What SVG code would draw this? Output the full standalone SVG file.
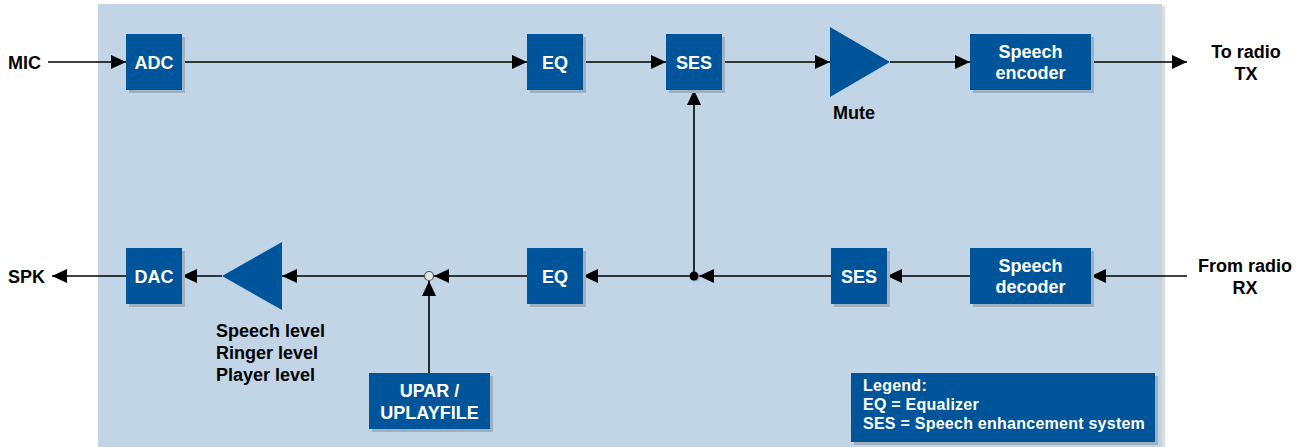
<svg xmlns="http://www.w3.org/2000/svg" width="1309" height="447" viewBox="0 0 1309 447">
<style>
.box{fill:#00559a}
.sh{fill:#9fb0c0}
.bt{font-family:"Liberation Sans",Arial,sans-serif;font-weight:bold;font-size:18px;fill:#ffffff;text-anchor:middle}
.lt{font-family:"Liberation Sans",Arial,sans-serif;font-weight:bold;font-size:18px;fill:#000000}
.lg{font-family:"Liberation Sans",Arial,sans-serif;font-weight:bold;font-size:16px;letter-spacing:0.25px;fill:#ffffff}
.ln{stroke:#000;stroke-width:1.6;fill:none}
</style>
<defs>
<marker id="ah" markerWidth="15" markerHeight="14" refX="15" refY="7" orient="auto" markerUnits="userSpaceOnUse">
<path d="M0,0 L15,7 L0,14 Z" fill="#000"/>
</marker>
</defs>
<rect x="1162" y="6" width="3" height="441" fill="#dcdcdc"/>
<rect x="98" y="4" width="1064" height="443" fill="#c1d5e6"/>

<g id="connectors">
<line class="ln" x1="48" y1="62" x2="126" y2="62" marker-end="url(#ah)"/>
<line class="ln" x1="182" y1="62" x2="527" y2="62" marker-end="url(#ah)"/>
<line class="ln" x1="583" y1="62" x2="666" y2="62" marker-end="url(#ah)"/>
<line class="ln" x1="722" y1="62" x2="830" y2="62" marker-end="url(#ah)"/>
<line class="ln" x1="890" y1="62" x2="970" y2="62" marker-end="url(#ah)"/>
<line class="ln" x1="1091" y1="62" x2="1187" y2="62" marker-end="url(#ah)"/>
<line class="ln" x1="1187" y1="276" x2="1091" y2="276" marker-end="url(#ah)"/>
<line class="ln" x1="970" y1="276" x2="887" y2="276" marker-end="url(#ah)"/>
<line class="ln" x1="831" y1="276" x2="699" y2="276" marker-end="url(#ah)"/>
<line class="ln" x1="694" y1="276" x2="583" y2="276" marker-end="url(#ah)"/>
<line class="ln" x1="694" y1="276" x2="694" y2="90" marker-end="url(#ah)"/>
<line class="ln" x1="527" y1="276" x2="434" y2="276" marker-end="url(#ah)"/>
<line class="ln" x1="424" y1="276" x2="282" y2="276" marker-end="url(#ah)"/>
<line class="ln" x1="222" y1="276" x2="182" y2="276" marker-end="url(#ah)"/>
<line class="ln" x1="126" y1="276" x2="52" y2="276" marker-end="url(#ah)"/>
<line class="ln" x1="429" y1="373" x2="429" y2="281" marker-end="url(#ah)"/>
<circle cx="695" cy="277" r="5" fill="#8a9aa8" opacity="0.5"/>
<circle cx="694" cy="276" r="4.5" fill="#000"/>
<circle cx="429" cy="276" r="4.5" fill="#e8e8e8" stroke="#555" stroke-width="1.2"/>
</g>

<g id="mic"><text class="lt" x="8" y="69">MIC</text></g>
<g id="adc"><rect class="sh" x="129" y="37" width="56" height="56"/><rect class="box" x="126" y="34" width="56" height="56"/><text class="bt" x="154" y="69">ADC</text></g>
<g id="eq-tx"><rect class="sh" x="530" y="37" width="56" height="56"/><rect class="box" x="527" y="34" width="56" height="56"/><text class="bt" x="555" y="69">EQ</text></g>
<g id="ses-tx"><rect class="sh" x="669" y="37" width="56" height="56"/><rect class="box" x="666" y="34" width="56" height="56"/><text class="bt" x="694" y="69">SES</text></g>
<g id="mute"><polygon class="box" points="830,27 890,62 830,97"/><text class="lt" x="854" y="119" text-anchor="middle">Mute</text></g>
<g id="encoder"><rect class="sh" x="973" y="37" width="121" height="56"/><rect class="box" x="970" y="34" width="121" height="56"/><text class="bt" x="1030.5" y="58">Speech</text><text class="bt" x="1030.5" y="79">encoder</text></g>
<g id="to-radio"><text class="lt" x="1246" y="58" text-anchor="middle">To radio</text><text class="lt" x="1246" y="80" text-anchor="middle">TX</text></g>

<g id="spk"><text class="lt" x="8" y="283">SPK</text></g>
<g id="dac"><rect class="sh" x="129" y="251" width="56" height="56"/><rect class="box" x="126" y="248" width="56" height="56"/><text class="bt" x="154" y="283">DAC</text></g>
<g id="volume"><polygon class="box" points="282,242 222,276 282,310"/>
<text class="lt" x="216" y="337">Speech level</text><text class="lt" x="216" y="359">Ringer level</text><text class="lt" x="216" y="381">Player level</text></g>
<g id="upar"><rect class="sh" x="372" y="376" width="121" height="56"/><rect class="box" x="369" y="373" width="121" height="56"/><text class="bt" x="429.5" y="397">UPAR /</text><text class="bt" x="429.5" y="419">UPLAYFILE</text></g>
<g id="eq-rx"><rect class="sh" x="530" y="251" width="56" height="56"/><rect class="box" x="527" y="248" width="56" height="56"/><text class="bt" x="555" y="283">EQ</text></g>
<g id="ses-rx"><rect class="sh" x="834" y="251" width="56" height="56"/><rect class="box" x="831" y="248" width="56" height="56"/><text class="bt" x="859" y="283">SES</text></g>
<g id="decoder"><rect class="sh" x="973" y="251" width="121" height="56"/><rect class="box" x="970" y="248" width="121" height="56"/><text class="bt" x="1030.5" y="272">Speech</text><text class="bt" x="1030.5" y="293">decoder</text></g>
<g id="from-radio"><text class="lt" x="1245" y="272" text-anchor="middle">From radio</text><text class="lt" x="1245" y="294" text-anchor="middle">RX</text></g>

<g id="legend"><rect class="sh" x="854" y="376" width="304" height="69"/><rect class="box" x="851" y="373" width="304" height="69"/>
<text class="lg" x="863" y="391">Legend:</text><text class="lg" x="863" y="410">EQ = Equalizer</text><text class="lg" x="863" y="429">SES = Speech enhancement system</text></g>
</svg>
